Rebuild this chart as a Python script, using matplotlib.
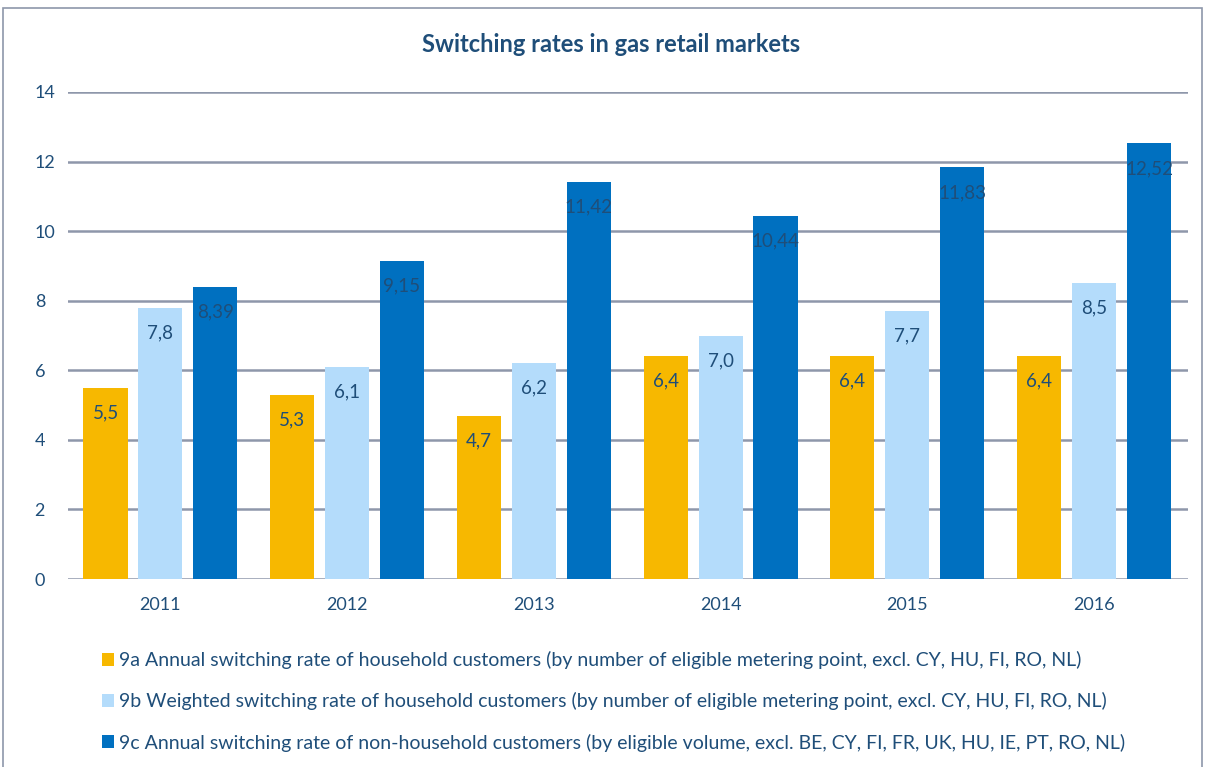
import matplotlib
matplotlib.use("Agg")
import matplotlib.pyplot as plt
import numpy as np
from matplotlib.patches import Rectangle

years = ["2011", "2012", "2013", "2014", "2015", "2016"]
s9a = [5.5, 5.3, 4.7, 6.4, 6.4, 6.4]
s9b = [7.8, 6.1, 6.2, 7.0, 7.7, 8.5]
s9c = [8.39, 9.15, 11.42, 10.44, 11.83, 12.52]
lab9a = ["5,5", "5,3", "4,7", "6,4", "6,4", "6,4"]
lab9b = ["7,8", "6,1", "6,2", "7,0", "7,7", "8,5"]
lab9c = ["8,39", "9,15", "11,42", "10,44", "11,83", "12,52"]
names = [
    "9a Annual switching rate of household customers (by number of eligible metering point, excl. CY, HU, FI, RO, NL)",
    "9b Weighted switching rate of household customers (by number of eligible metering point, excl. CY, HU, FI, RO, NL)",
    "9c Annual switching rate of non-household customers (by eligible volume, excl. BE, CY, FI, FR, UK, HU, IE, PT, RO, NL)",
]
yticks = [0, 2, 4, 6, 8, 10, 12, 14]

plt.rcParams['font.family'] = ['Lato', 'DejaVu Sans']
txt = '#1F4E79'
colors = ['#F7B800', '#B4DCFB', '#0070C0']
grid = '#8E97AA'

fig = plt.figure(figsize=(12.05, 7.67), dpi=100)
fig.patches.append(Rectangle((3/1205, -0.01), 1199/1205, 1 - 8/767 + 0.01,
                             transform=fig.transFigure, fill=False,
                             edgecolor=grid, linewidth=1.2))
ax = fig.add_axes([68/1205, 1 - 579/767, (1188-68)/1205, (579-92)/767])

x = np.arange(len(years))
step = 0.294
w = 0.236
series = [s9a, s9b, s9c]
labels = [lab9a, lab9b, lab9c]
handles = []
for i, (vals, labs, c) in enumerate(zip(series, labels, colors)):
    bars = ax.bar(x + (i - 1) * step, vals, width=w, color=c, zorder=3)
    handles.append(bars)
    for b, l in zip(bars, labs):
        ax.annotate(l, (b.get_x() + b.get_width() / 2, b.get_height()),
                    xytext=(0, -18), textcoords='offset points',
                    ha='center', va='center', fontsize=13.5, color=txt, zorder=4)

ax.set_xlim(-0.495, 5.503)
ax.set_ylim(0, 14)
ax.set_yticks(yticks)
ax.set_yticklabels([str(t) for t in yticks])
ax.set_xticks(x)
ax.set_xticklabels(years)
ax.yaxis.grid(True, color=grid, linewidth=1.8, zorder=0)
ax.set_axisbelow(True)
for s in ax.spines.values():
    s.set_visible(False)
ax.tick_params(axis='both', length=0, labelsize=13, colors=txt)
ax.tick_params(axis='y', pad=24)
ax.tick_params(axis='x', pad=13)
for lbl in ax.get_yticklabels():
    lbl.set_horizontalalignment('left')

fig.text(0.507, 1 - 44/767, "Switching rates in gas retail markets", ha='center', va='center',
         fontsize=17, fontweight='bold', color=txt)

leg = fig.legend(handles, names, loc='upper left', bbox_to_anchor=(94/1205, 1 - 643/767),
                 frameon=False, fontsize=14, handlelength=0.65, handleheight=0.65,
                 handletextpad=0.25, labelspacing=1.2, borderaxespad=0)
for t in leg.get_texts():
    t.set_color(txt)

fig.savefig("out.png", dpi=100)
